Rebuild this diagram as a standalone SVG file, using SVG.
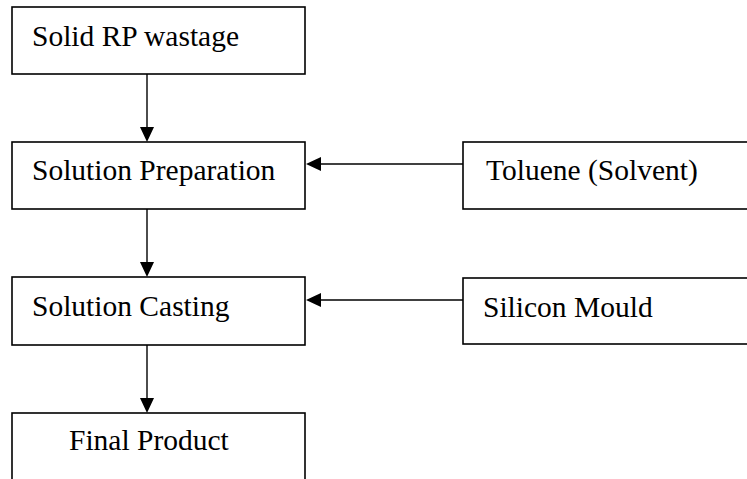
<svg xmlns="http://www.w3.org/2000/svg" width="747" height="479" viewBox="0 0 747 479">
<style>
.box{fill:#fff;stroke:#000;stroke-width:1.6}
.lbl{font-family:"Liberation Serif","Times New Roman",serif;font-size:29.5px;fill:#000}
.con{stroke:#000;stroke-width:1.4;fill:none}
.head{fill:#000}
</style>
<rect width="747" height="479" fill="#fff"/>
<g id="node-solid">
<rect class="box" x="12" y="7" width="293" height="67"/>
<text class="lbl" x="32" y="46">Solid RP wastage</text>
</g>
<g id="node-prep">
<rect class="box" x="12" y="142" width="293" height="67"/>
<text class="lbl" x="32" y="180">Solution Preparation</text>
</g>
<g id="node-cast">
<rect class="box" x="12" y="277" width="293" height="68"/>
<text class="lbl" x="32" y="316">Solution Casting</text>
</g>
<g id="node-final">
<rect class="box" x="12" y="413" width="293" height="80"/>
<text class="lbl" x="69" y="450">Final Product</text>
</g>
<g id="node-toluene">
<rect class="box" x="463" y="142" width="300" height="67"/>
<text class="lbl" x="486" y="180">Toluene (Solvent)</text>
</g>
<g id="node-mould">
<rect class="box" x="463" y="278" width="300" height="66"/>
<text class="lbl" x="483" y="317">Silicon Mould</text>
</g>
<g id="connectors">
<line class="con" x1="147" y1="74" x2="147" y2="128"/>
<polygon class="head" points="140,127 154,127 147,142"/>
<line class="con" x1="147" y1="209" x2="147" y2="263"/>
<polygon class="head" points="140,262 154,262 147,277"/>
<line class="con" x1="147" y1="345" x2="147" y2="399"/>
<polygon class="head" points="140,398 154,398 147,413"/>
<line class="con" x1="463" y1="164" x2="320" y2="164"/>
<polygon class="head" points="321,157 321,171 306,164"/>
<line class="con" x1="463" y1="300" x2="320" y2="300"/>
<polygon class="head" points="321,293 321,307 306,300"/>
</g>
</svg>
